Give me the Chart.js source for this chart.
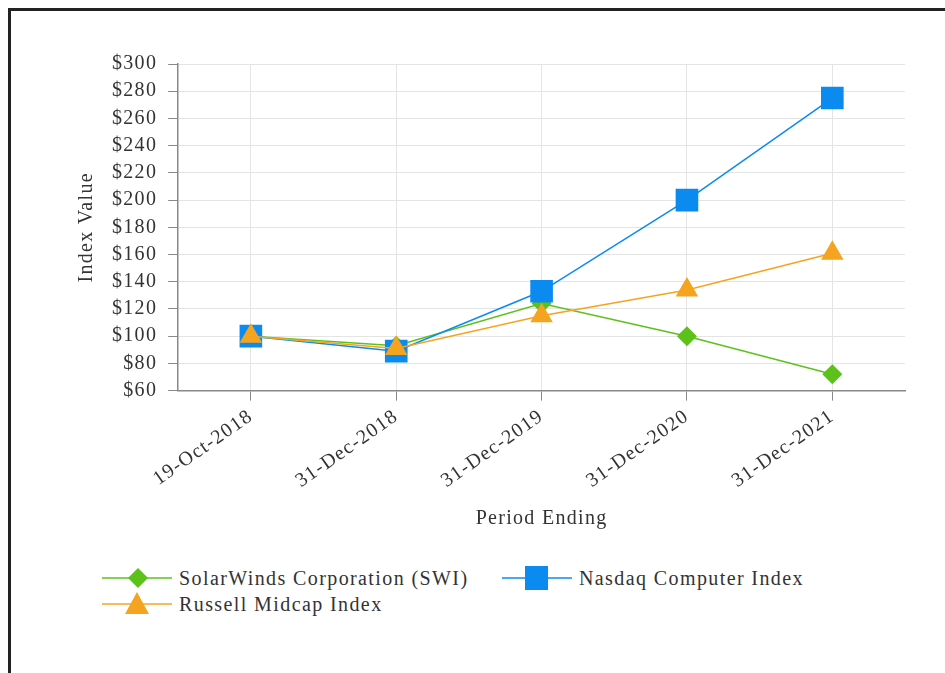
<!DOCTYPE html>
<html>
<head>
<meta charset="utf-8">
<script src="https://cdn.jsdelivr.net/npm/chart.js@4.4.0/dist/chart.umd.min.js"></script>
<style>
    body { margin: 0; background: #fff; width: 945px; height: 673px; overflow: hidden; position: relative; }
    .moldura { position: absolute; left: 8px; top: 8px; width: 1000px; height: 1000px; border: 3px solid #222; box-sizing: border-box; }
    .grafico { position: absolute; left: 0; top: 0; width: 945px; height: 535px; }
    .legenda { position: absolute; left: 0; top: 0; font-family: 'Liberation Serif', serif; font-size: 20px; letter-spacing: 1.4px; color: #333; }
    .legenda-item { position: absolute; white-space: nowrap; display: flex; align-items: center; height: 24px; }
    .legenda-item svg { margin-right: 7px; }
</style>
</head>
<body>
<div class="moldura"></div>
<div class="grafico"><canvas id="grafico-indice"></canvas></div>
<div class="legenda" id="legenda"></div>
<script>
// ==================== DADOS ====================
const periodos = ['19-Oct-2018', '31-Dec-2018', '31-Dec-2019', '31-Dec-2020', '31-Dec-2021'];
const valoresSolarWinds = [100, 93, 124, 100, 72];
const valoresNasdaq = [100, 89, 133, 200, 275];
const valoresRussell = [100, 91, 115, 134, 161];
const ticksY = [60, 80, 100, 120, 140, 160, 180, 200, 220, 240, 260, 280, 300];

const corVerde = '#5cc21a';
const corAzul = '#0b8bf0';
const corLaranja = '#f5a41f';
const fonteSerif = "'Liberation Serif', 'Times New Roman', serif";

// a fonte do original é mais larga: espaçamento extra entre letras
const espacamentoLetras = {
    id: 'espacamentoLetras',
    beforeUpdate(chart) { chart.ctx.letterSpacing = '1.3px'; },
    beforeDraw(chart) { chart.ctx.letterSpacing = '1.3px'; }
};

function renderizarGrafico() {
    const ctx = document.getElementById('grafico-indice');

    new Chart(ctx, {
        type: 'line',
        data: {
            labels: periodos,
            datasets: [
                {
                    label: 'SolarWinds Corporation (SWI)',
                    data: valoresSolarWinds,
                    borderColor: corVerde,
                    backgroundColor: corVerde,
                    borderWidth: 1.5,
                    pointStyle: 'rectRot',
                    pointRadius: 10,
                    pointBorderWidth: 0,
                    order: 3
                },
                {
                    label: 'Nasdaq Computer Index',
                    data: valoresNasdaq,
                    borderColor: corAzul,
                    backgroundColor: corAzul,
                    borderWidth: 1.5,
                    pointStyle: 'rect',
                    pointRadius: 16,
                    pointBorderWidth: 0,
                    order: 2
                },
                {
                    label: 'Russell Midcap Index',
                    data: valoresRussell,
                    borderColor: corLaranja,
                    backgroundColor: corLaranja,
                    borderWidth: 1.5,
                    pointStyle: 'triangle',
                    pointRadius: 13,
                    pointBorderWidth: 0,
                    order: 1
                }
            ]
        },
        plugins: [espacamentoLetras],
        options: {
            responsive: true,
            maintainAspectRatio: false,
            animation: false,
            layout: {
                padding: { left: 75, right: 40, top: 64, bottom: 4 }
            },
            plugins: {
                legend: { display: false },
                tooltip: { enabled: false }
            },
            scales: {
                y: {
                    min: 60,
                    max: 300,
                    afterBuildTicks: function(axis) {
                        axis.ticks = ticksY.map(v => ({ value: v }));
                    },
                    ticks: {
                        color: '#333',
                        font: { family: fonteSerif, size: 20 },
                        padding: 11,
                        callback: function(value) {
                            return '$' + value;
                        }
                    },
                    grid: {
                        color: '#e4e4e4',
                        tickColor: '#888',
                        tickLength: 10
                    },
                    border: { color: '#888', width: 1.5 },
                    title: {
                        display: true,
                        text: 'Index Value',
                        color: '#333',
                        font: { family: fonteSerif, size: 20 },
                        padding: { top: 0, bottom: 2 }
                    }
                },
                x: {
                    offset: true,
                    ticks: {
                        color: '#333',
                        font: { family: fonteSerif, size: 20 },
                        minRotation: 35,
                        maxRotation: 35,
                        padding: 4
                    },
                    grid: {
                        offset: false,
                        color: '#e4e4e4',
                        tickColor: '#888',
                        tickLength: 10
                    },
                    border: { color: '#888', width: 1.5 },
                    title: {
                        display: true,
                        text: 'Period Ending',
                        color: '#333',
                        font: { family: fonteSerif, size: 20 },
                        padding: { top: 10, bottom: 0 }
                    }
                }
            }
        }
    });
}

function marcadorSvg(estilo, cor) {
    let forma = '';
    if (estilo === 'rectRot') forma = `<polygon points="36,2 46,12 36,22 26,12" fill="${cor}"/>`;
    else if (estilo === 'rect') forma = `<rect x="23" y="0" width="23" height="24" fill="${cor}"/>`;
    else forma = `<polygon points="35,0 47,22 23,22" fill="${cor}"/>`;
    return `<svg width="70" height="24"><line x1="0" y1="12" x2="70" y2="12" stroke="${cor}" stroke-width="1.5"/>${forma}</svg>`;
}

function renderizarLegenda() {
    const itens = [
        { texto: 'SolarWinds Corporation (SWI)', estilo: 'rectRot', cor: corVerde, x: 102, y: 566 },
        { texto: 'Nasdaq Computer Index', estilo: 'rect', cor: corAzul, x: 502, y: 566 },
        { texto: 'Russell Midcap Index', estilo: 'triangle', cor: corLaranja, x: 102, y: 592 }
    ];
    document.getElementById('legenda').innerHTML = itens.map(item => `
        <div class="legenda-item" style="left:${item.x}px; top:${item.y}px">
            ${marcadorSvg(item.estilo, item.cor)}<span>${item.texto}</span>
        </div>
    `).join('');
}

renderizarGrafico();
renderizarLegenda();
</script>
</body>
</html>
